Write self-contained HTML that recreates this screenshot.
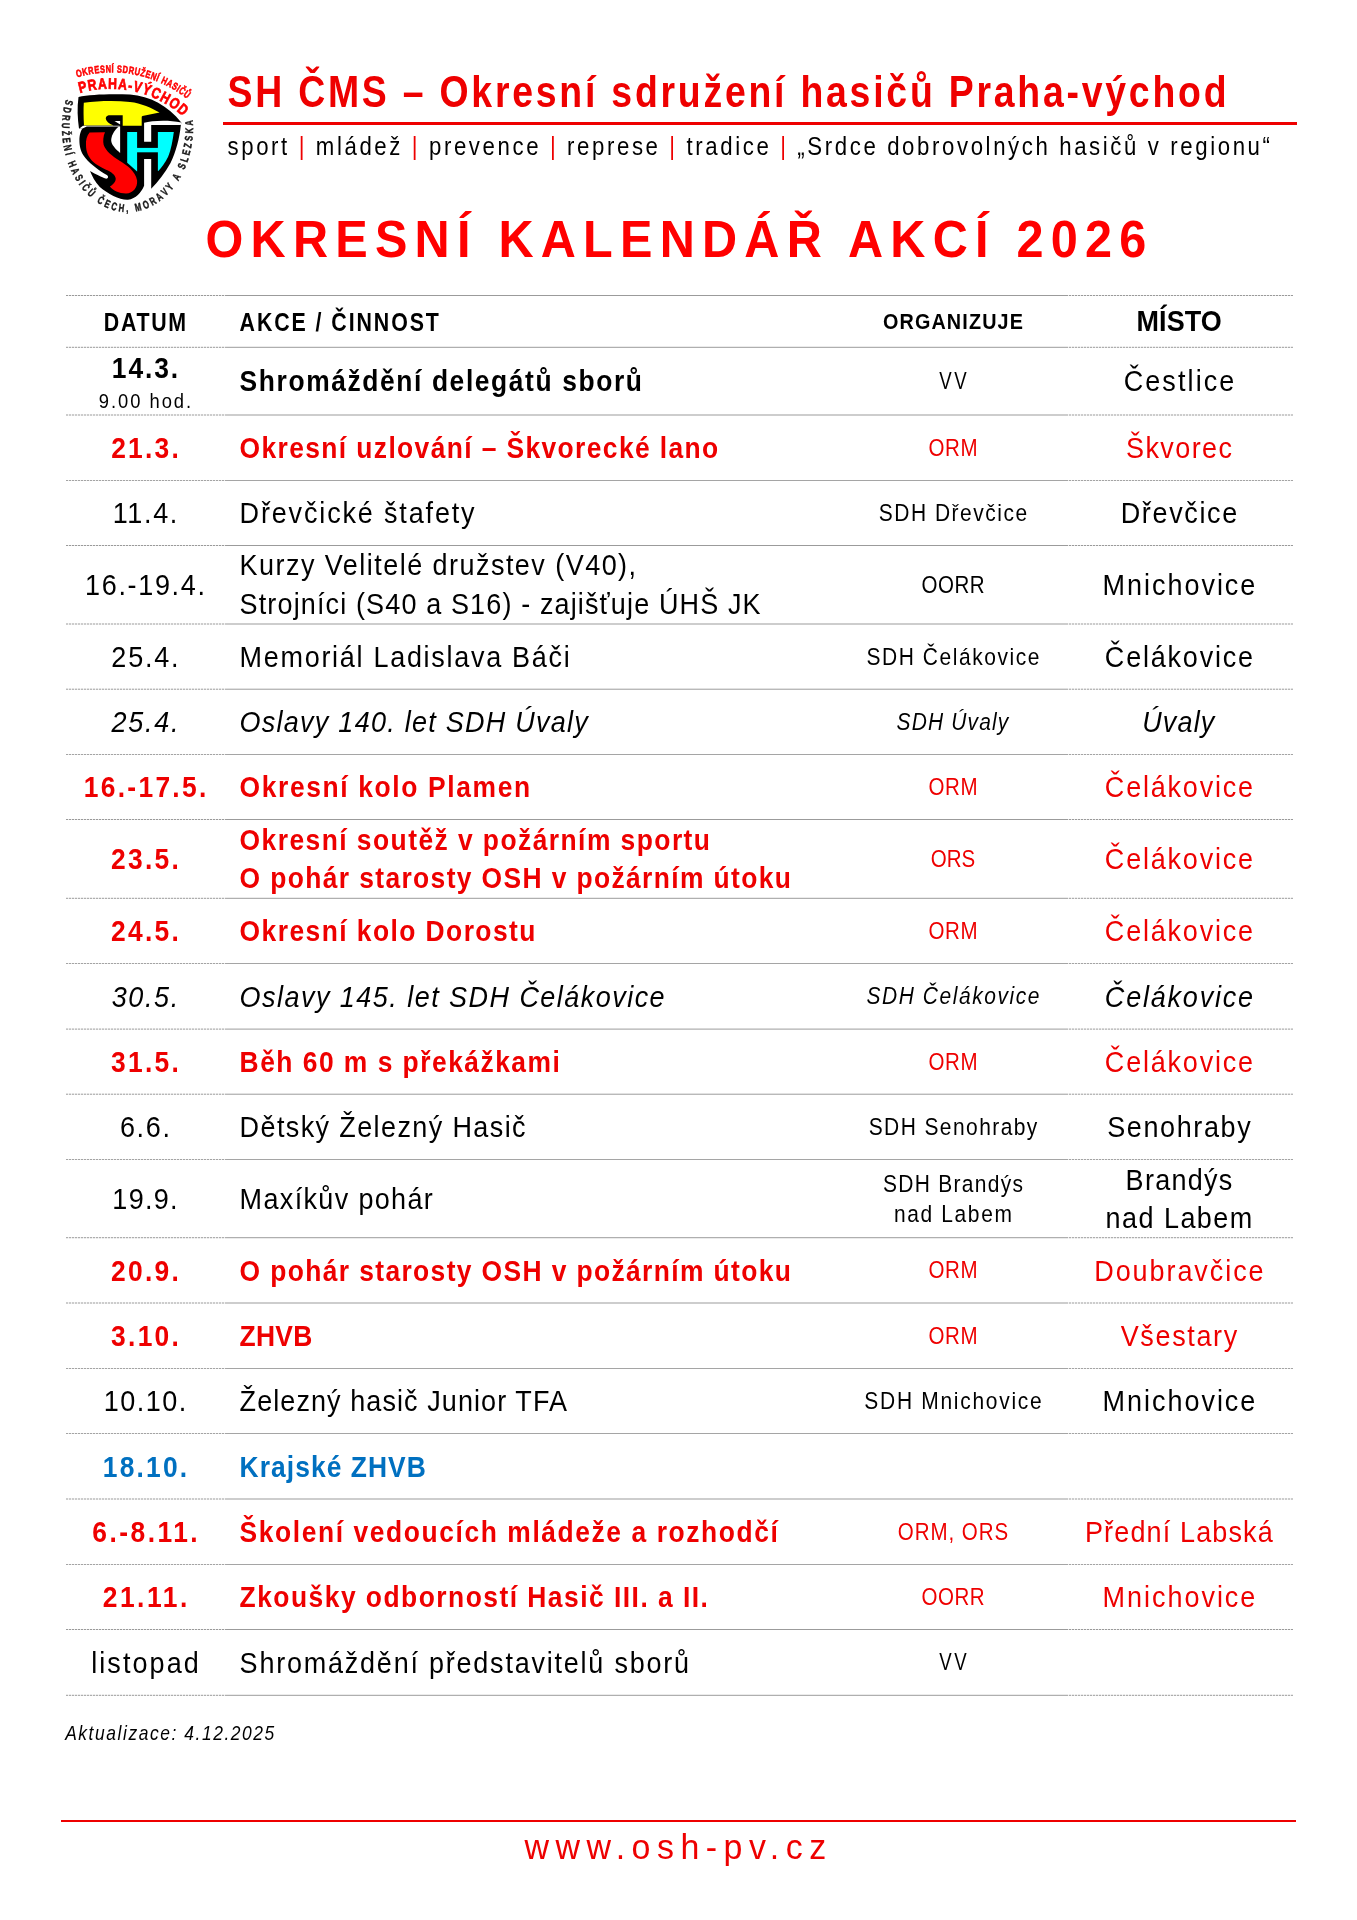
<!DOCTYPE html>
<html><head><meta charset="utf-8"><title>Okresní kalendář akcí 2026</title>
<style>
html,body{margin:0;padding:0;background:#fff;}
body{width:1357px;height:1920px;position:relative;overflow:hidden;font-family:"Liberation Sans",sans-serif;}
.rs{position:absolute;height:1px;background:#9b9b9b;}
.rl{position:absolute;height:1px;background:repeating-linear-gradient(90deg,#9a9a9a 0 2px,#e8e8e8 2px 3px);}
.redl{position:absolute;background:#ee0000;}
svg.txt{position:absolute;left:0;top:0;will-change:transform;}
svg.txt text{font-family:"Liberation Sans",sans-serif;}
</style></head><body>
<div class="rl" style="top:295px;left:66px;width:159px;opacity:1.00"></div>
<div class="rs" style="top:295px;left:225px;width:841px;opacity:1.00"></div>
<div class="rl" style="top:295px;left:1066px;width:227px;opacity:1.00"></div>
<div class="rl" style="top:346px;left:66px;width:159px;opacity:0.20"></div>
<div class="rs" style="top:346px;left:225px;width:841px;opacity:0.20"></div>
<div class="rl" style="top:346px;left:1066px;width:227px;opacity:0.20"></div>
<div class="rl" style="top:347px;left:66px;width:159px;opacity:0.80"></div>
<div class="rs" style="top:347px;left:225px;width:841px;opacity:0.80"></div>
<div class="rl" style="top:347px;left:1066px;width:227px;opacity:0.80"></div>
<div class="rl" style="top:414px;left:66px;width:159px;opacity:0.50"></div>
<div class="rs" style="top:414px;left:225px;width:841px;opacity:0.50"></div>
<div class="rl" style="top:414px;left:1066px;width:227px;opacity:0.50"></div>
<div class="rl" style="top:415px;left:66px;width:159px;opacity:0.50"></div>
<div class="rs" style="top:415px;left:225px;width:841px;opacity:0.50"></div>
<div class="rl" style="top:415px;left:1066px;width:227px;opacity:0.50"></div>
<div class="rl" style="top:480px;left:66px;width:159px;opacity:0.90"></div>
<div class="rs" style="top:480px;left:225px;width:841px;opacity:0.90"></div>
<div class="rl" style="top:480px;left:1066px;width:227px;opacity:0.90"></div>
<div class="rl" style="top:545px;left:66px;width:159px;opacity:1.00"></div>
<div class="rs" style="top:545px;left:225px;width:841px;opacity:1.00"></div>
<div class="rl" style="top:545px;left:1066px;width:227px;opacity:1.00"></div>
<div class="rl" style="top:623px;left:66px;width:159px;opacity:0.50"></div>
<div class="rs" style="top:623px;left:225px;width:841px;opacity:0.50"></div>
<div class="rl" style="top:623px;left:1066px;width:227px;opacity:0.50"></div>
<div class="rl" style="top:624px;left:66px;width:159px;opacity:0.50"></div>
<div class="rs" style="top:624px;left:225px;width:841px;opacity:0.50"></div>
<div class="rl" style="top:624px;left:1066px;width:227px;opacity:0.50"></div>
<div class="rl" style="top:688px;left:66px;width:159px;opacity:0.30"></div>
<div class="rs" style="top:688px;left:225px;width:841px;opacity:0.30"></div>
<div class="rl" style="top:688px;left:1066px;width:227px;opacity:0.30"></div>
<div class="rl" style="top:689px;left:66px;width:159px;opacity:0.70"></div>
<div class="rs" style="top:689px;left:225px;width:841px;opacity:0.70"></div>
<div class="rl" style="top:689px;left:1066px;width:227px;opacity:0.70"></div>
<div class="rl" style="top:754px;left:66px;width:159px;opacity:0.90"></div>
<div class="rs" style="top:754px;left:225px;width:841px;opacity:0.90"></div>
<div class="rl" style="top:754px;left:1066px;width:227px;opacity:0.90"></div>
<div class="rl" style="top:819px;left:66px;width:159px;opacity:1.00"></div>
<div class="rs" style="top:819px;left:225px;width:841px;opacity:1.00"></div>
<div class="rl" style="top:819px;left:1066px;width:227px;opacity:1.00"></div>
<div class="rl" style="top:897px;left:66px;width:159px;opacity:0.20"></div>
<div class="rs" style="top:897px;left:225px;width:841px;opacity:0.20"></div>
<div class="rl" style="top:897px;left:1066px;width:227px;opacity:0.20"></div>
<div class="rl" style="top:898px;left:66px;width:159px;opacity:0.80"></div>
<div class="rs" style="top:898px;left:225px;width:841px;opacity:0.80"></div>
<div class="rl" style="top:898px;left:1066px;width:227px;opacity:0.80"></div>
<div class="rl" style="top:963px;left:66px;width:159px;opacity:0.90"></div>
<div class="rs" style="top:963px;left:225px;width:841px;opacity:0.90"></div>
<div class="rl" style="top:963px;left:1066px;width:227px;opacity:0.90"></div>
<div class="rl" style="top:1028px;left:66px;width:159px;opacity:0.40"></div>
<div class="rs" style="top:1028px;left:225px;width:841px;opacity:0.40"></div>
<div class="rl" style="top:1028px;left:1066px;width:227px;opacity:0.40"></div>
<div class="rl" style="top:1029px;left:66px;width:159px;opacity:0.60"></div>
<div class="rs" style="top:1029px;left:225px;width:841px;opacity:0.60"></div>
<div class="rl" style="top:1029px;left:1066px;width:227px;opacity:0.60"></div>
<div class="rl" style="top:1093px;left:66px;width:159px;opacity:0.30"></div>
<div class="rs" style="top:1093px;left:225px;width:841px;opacity:0.30"></div>
<div class="rl" style="top:1093px;left:1066px;width:227px;opacity:0.30"></div>
<div class="rl" style="top:1094px;left:66px;width:159px;opacity:0.70"></div>
<div class="rs" style="top:1094px;left:225px;width:841px;opacity:0.70"></div>
<div class="rl" style="top:1094px;left:1066px;width:227px;opacity:0.70"></div>
<div class="rl" style="top:1159px;left:66px;width:159px;opacity:0.90"></div>
<div class="rs" style="top:1159px;left:225px;width:841px;opacity:0.90"></div>
<div class="rl" style="top:1159px;left:1066px;width:227px;opacity:0.90"></div>
<div class="rl" style="top:1237px;left:66px;width:159px;opacity:0.80"></div>
<div class="rs" style="top:1237px;left:225px;width:841px;opacity:0.80"></div>
<div class="rl" style="top:1237px;left:1066px;width:227px;opacity:0.80"></div>
<div class="rl" style="top:1238px;left:66px;width:159px;opacity:0.20"></div>
<div class="rs" style="top:1238px;left:225px;width:841px;opacity:0.20"></div>
<div class="rl" style="top:1238px;left:1066px;width:227px;opacity:0.20"></div>
<div class="rl" style="top:1302px;left:66px;width:159px;opacity:0.50"></div>
<div class="rs" style="top:1302px;left:225px;width:841px;opacity:0.50"></div>
<div class="rl" style="top:1302px;left:1066px;width:227px;opacity:0.50"></div>
<div class="rl" style="top:1303px;left:66px;width:159px;opacity:0.50"></div>
<div class="rs" style="top:1303px;left:225px;width:841px;opacity:0.50"></div>
<div class="rl" style="top:1303px;left:1066px;width:227px;opacity:0.50"></div>
<div class="rl" style="top:1368px;left:66px;width:159px;opacity:0.90"></div>
<div class="rs" style="top:1368px;left:225px;width:841px;opacity:0.90"></div>
<div class="rl" style="top:1368px;left:1066px;width:227px;opacity:0.90"></div>
<div class="rl" style="top:1433px;left:66px;width:159px;opacity:0.90"></div>
<div class="rs" style="top:1433px;left:225px;width:841px;opacity:0.90"></div>
<div class="rl" style="top:1433px;left:1066px;width:227px;opacity:0.90"></div>
<div class="rl" style="top:1498px;left:66px;width:159px;opacity:0.50"></div>
<div class="rs" style="top:1498px;left:225px;width:841px;opacity:0.50"></div>
<div class="rl" style="top:1498px;left:1066px;width:227px;opacity:0.50"></div>
<div class="rl" style="top:1499px;left:66px;width:159px;opacity:0.50"></div>
<div class="rs" style="top:1499px;left:225px;width:841px;opacity:0.50"></div>
<div class="rl" style="top:1499px;left:1066px;width:227px;opacity:0.50"></div>
<div class="rl" style="top:1564px;left:66px;width:159px;opacity:0.90"></div>
<div class="rs" style="top:1564px;left:225px;width:841px;opacity:0.90"></div>
<div class="rl" style="top:1564px;left:1066px;width:227px;opacity:0.90"></div>
<div class="rl" style="top:1629px;left:66px;width:159px;opacity:1.00"></div>
<div class="rs" style="top:1629px;left:225px;width:841px;opacity:1.00"></div>
<div class="rl" style="top:1629px;left:1066px;width:227px;opacity:1.00"></div>
<div class="rl" style="top:1694px;left:66px;width:159px;opacity:0.20"></div>
<div class="rs" style="top:1694px;left:225px;width:841px;opacity:0.20"></div>
<div class="rl" style="top:1694px;left:1066px;width:227px;opacity:0.20"></div>
<div class="rl" style="top:1695px;left:66px;width:159px;opacity:0.80"></div>
<div class="rs" style="top:1695px;left:225px;width:841px;opacity:0.80"></div>
<div class="rl" style="top:1695px;left:1066px;width:227px;opacity:0.80"></div>
<div class="redl" style="left:223px;top:122px;width:1074px;height:3px"></div>
<div class="redl" style="left:61px;top:1820px;width:1235px;height:2px"></div>
<svg style="position:absolute;left:40px;top:50px;will-change:transform" width="170" height="170" viewBox="40 50 170 170">

<!-- black silhouette -->
<path fill="#000" d="M78.5,97 C90,94.5 110,93.8 130,94.6 C150,96 168,106 181.3,122.5 L180.8,125.5 C179.5,138 176,152 170.5,163 C165,173 158,182 151.2,188.8 L151.2,159.1 L144.1,159.1 L144.1,185.7 C141,193 136,198.5 128,199.8 C120,200.3 108,194 99.8,187 C95,182 92,176 90,171.1 C96,174.5 102,177.5 105.5,178.6 C108.5,179 108.8,176.5 106.8,175.1 C100,171 91,165 85.2,157.8 C80.5,152 79.4,146 79.4,140 C79.4,135 81,130 82.5,128.5 L79,128.8 C77.5,118 77,108 78.5,97 Z"/>
<!-- yellow band -->
<path fill="#ffff00" d="M83.8,102.8 C98,100.8 115,100.4 130,101.9 C141,103 152,108 159.6,112.5 L142.4,116.1 L141.7,116.8 L141.7,125.8 L122.7,125.8 L122.7,115.2 L108.6,115.2 C106,115.6 105.4,118 106,119.5 C107,122.5 111,124.5 113.5,125.4 L84,125.4 C83.5,117 83.4,109 83.8,102.8 Z"/>
<!-- white gaps -->
<path fill="#fff" d="M79,128.8 L83,125.8 L119.5,125.8 L119.5,126.6 L86.8,126.6 L82.5,128.5 Z"/>
<path fill="#fff" d="M114.5,121 L120.1,121 L120.1,124.6 Z"/>
<path fill="#fff" d="M144.1,122.7 C152,120.6 168,119.5 181.3,122.5 L180.8,125.1 L151.2,125.1 L151.2,141.7 L144.1,141.7 Z"/>
<!-- white counter inside S -->
<path fill="#fff" d="M118.8,126.4 L120.1,126.4 L120.1,153 C116,149.5 111.4,145 111.2,140.8 C111,136 114,130.5 118.8,126.4 Z"/>
<!-- red S -->
<path fill="#ff0000" d="M89.6,132.4 L105,132.2 C103.2,136 102.8,141.5 103.7,145 C105.5,150.5 112,156 119.2,160.5 C126.5,165 135.5,171 137.1,180.4 C137.6,187.5 133.5,192.8 126,193.6 C119,193.6 113,190.5 109.9,186.6 C113.5,184.5 115.9,181.5 115.7,178.6 C115.4,175 111.5,172 106,169.8 C100.5,166.8 96,164.5 93.6,162.2 C88.5,157.5 86,152 86,145 C85.6,140 87,135.5 89.6,132.4 Z"/>
<!-- cyan H -->
<path fill="#00ffff" d="M127.2,132 L137.1,132 L137.1,171.5 L127.2,162.7 Z"/>
<path fill="#00ffff" d="M157.9,132 L173.8,132 C172.8,140 171,150 168,157 C165,163 161.5,167.5 158.3,171.1 L157.9,171.1 Z"/>
<rect fill="#00ffff" x="137" y="147.9" width="21" height="4.4"/>
<text transform="translate(79.68 76.65) rotate(-15.23) scale(0.720 1)" text-anchor="middle" fill="#ff0000" stroke="#ff0000" stroke-width="0.55" style="font-family:'Liberation Sans',sans-serif;font-weight:bold;font-size:10.40px">O</text>
<text transform="translate(85.64 75.19) rotate(-12.33) scale(0.720 1)" text-anchor="middle" fill="#ff0000" stroke="#ff0000" stroke-width="0.55" style="font-family:'Liberation Sans',sans-serif;font-weight:bold;font-size:10.40px">K</text>
<text transform="translate(91.46 74.07) rotate(-9.51) scale(0.720 1)" text-anchor="middle" fill="#ff0000" stroke="#ff0000" stroke-width="0.55" style="font-family:'Liberation Sans',sans-serif;font-weight:bold;font-size:10.40px">R</text>
<text transform="translate(97.13 73.26) rotate(-6.81) scale(0.720 1)" text-anchor="middle" fill="#ff0000" stroke="#ff0000" stroke-width="0.55" style="font-family:'Liberation Sans',sans-serif;font-weight:bold;font-size:10.40px">E</text>
<text transform="translate(102.62 72.73) rotate(-4.20) scale(0.720 1)" text-anchor="middle" fill="#ff0000" stroke="#ff0000" stroke-width="0.55" style="font-family:'Liberation Sans',sans-serif;font-weight:bold;font-size:10.40px">S</text>
<text transform="translate(108.33 72.44) rotate(-1.49) scale(0.720 1)" text-anchor="middle" fill="#ff0000" stroke="#ff0000" stroke-width="0.55" style="font-family:'Liberation Sans',sans-serif;font-weight:bold;font-size:10.40px">N</text>
<text transform="translate(112.60 72.41) rotate(0.52) scale(0.720 1)" text-anchor="middle" fill="#ff0000" stroke="#ff0000" stroke-width="0.55" style="font-family:'Liberation Sans',sans-serif;font-weight:bold;font-size:10.40px">Í</text>
<text transform="translate(119.26 72.65) rotate(3.67) scale(0.720 1)" text-anchor="middle" fill="#ff0000" stroke="#ff0000" stroke-width="0.55" style="font-family:'Liberation Sans',sans-serif;font-weight:bold;font-size:10.40px">S</text>
<text transform="translate(124.96 73.15) rotate(6.38) scale(0.720 1)" text-anchor="middle" fill="#ff0000" stroke="#ff0000" stroke-width="0.55" style="font-family:'Liberation Sans',sans-serif;font-weight:bold;font-size:10.40px">D</text>
<text transform="translate(130.84 73.95) rotate(9.18) scale(0.720 1)" text-anchor="middle" fill="#ff0000" stroke="#ff0000" stroke-width="0.55" style="font-family:'Liberation Sans',sans-serif;font-weight:bold;font-size:10.40px">R</text>
<text transform="translate(136.67 75.04) rotate(11.98) scale(0.720 1)" text-anchor="middle" fill="#ff0000" stroke="#ff0000" stroke-width="0.55" style="font-family:'Liberation Sans',sans-serif;font-weight:bold;font-size:10.40px">U</text>
<text transform="translate(142.03 76.31) rotate(14.59) scale(0.720 1)" text-anchor="middle" fill="#ff0000" stroke="#ff0000" stroke-width="0.55" style="font-family:'Liberation Sans',sans-serif;font-weight:bold;font-size:10.40px">Ž</text>
<text transform="translate(147.14 77.76) rotate(17.10) scale(0.720 1)" text-anchor="middle" fill="#ff0000" stroke="#ff0000" stroke-width="0.55" style="font-family:'Liberation Sans',sans-serif;font-weight:bold;font-size:10.40px">E</text>
<text transform="translate(152.57 79.57) rotate(19.81) scale(0.720 1)" text-anchor="middle" fill="#ff0000" stroke="#ff0000" stroke-width="0.55" style="font-family:'Liberation Sans',sans-serif;font-weight:bold;font-size:10.40px">N</text>
<text transform="translate(156.56 81.09) rotate(21.82) scale(0.720 1)" text-anchor="middle" fill="#ff0000" stroke="#ff0000" stroke-width="0.55" style="font-family:'Liberation Sans',sans-serif;font-weight:bold;font-size:10.40px">Í</text>
<text transform="translate(162.86 83.82) rotate(25.07) scale(0.720 1)" text-anchor="middle" fill="#ff0000" stroke="#ff0000" stroke-width="0.55" style="font-family:'Liberation Sans',sans-serif;font-weight:bold;font-size:10.40px">H</text>
<text transform="translate(168.17 86.46) rotate(27.88) scale(0.720 1)" text-anchor="middle" fill="#ff0000" stroke="#ff0000" stroke-width="0.55" style="font-family:'Liberation Sans',sans-serif;font-weight:bold;font-size:10.40px">A</text>
<text transform="translate(173.16 89.26) rotate(30.59) scale(0.720 1)" text-anchor="middle" fill="#ff0000" stroke="#ff0000" stroke-width="0.55" style="font-family:'Liberation Sans',sans-serif;font-weight:bold;font-size:10.40px">S</text>
<text transform="translate(176.62 91.38) rotate(32.51) scale(0.720 1)" text-anchor="middle" fill="#ff0000" stroke="#ff0000" stroke-width="0.55" style="font-family:'Liberation Sans',sans-serif;font-weight:bold;font-size:10.40px">I</text>
<text transform="translate(180.18 93.74) rotate(34.52) scale(0.720 1)" text-anchor="middle" fill="#ff0000" stroke="#ff0000" stroke-width="0.55" style="font-family:'Liberation Sans',sans-serif;font-weight:bold;font-size:10.40px">Č</text>
<text transform="translate(184.98 97.22) rotate(37.32) scale(0.720 1)" text-anchor="middle" fill="#ff0000" stroke="#ff0000" stroke-width="0.55" style="font-family:'Liberation Sans',sans-serif;font-weight:bold;font-size:10.40px">Ů</text>
<text transform="translate(83.65 91.99) rotate(-13.79) scale(0.800 1)" text-anchor="middle" fill="#ff0000" stroke="#ff0000" stroke-width="0.70" style="font-family:'Liberation Sans',sans-serif;font-weight:bold;font-size:15.30px">P</text>
<text transform="translate(92.93 90.13) rotate(-8.89) scale(0.800 1)" text-anchor="middle" fill="#ff0000" stroke="#ff0000" stroke-width="0.70" style="font-family:'Liberation Sans',sans-serif;font-weight:bold;font-size:15.30px">R</text>
<text transform="translate(102.67 89.04) rotate(-3.80) scale(0.800 1)" text-anchor="middle" fill="#ff0000" stroke="#ff0000" stroke-width="0.70" style="font-family:'Liberation Sans',sans-serif;font-weight:bold;font-size:15.30px">A</text>
<text transform="translate(112.47 88.83) rotate(1.29) scale(0.800 1)" text-anchor="middle" fill="#ff0000" stroke="#ff0000" stroke-width="0.70" style="font-family:'Liberation Sans',sans-serif;font-weight:bold;font-size:15.30px">H</text>
<text transform="translate(122.25 89.48) rotate(6.36) scale(0.800 1)" text-anchor="middle" fill="#ff0000" stroke="#ff0000" stroke-width="0.70" style="font-family:'Liberation Sans',sans-serif;font-weight:bold;font-size:15.30px">A</text>
<text transform="translate(129.60 90.55) rotate(10.21) scale(0.800 1)" text-anchor="middle" fill="#ff0000" stroke="#ff0000" stroke-width="0.70" style="font-family:'Liberation Sans',sans-serif;font-weight:bold;font-size:15.30px">-</text>
<text transform="translate(136.53 92.03) rotate(13.88) scale(0.800 1)" text-anchor="middle" fill="#ff0000" stroke="#ff0000" stroke-width="0.70" style="font-family:'Liberation Sans',sans-serif;font-weight:bold;font-size:15.30px">V</text>
<text transform="translate(145.30 94.58) rotate(18.61) scale(0.800 1)" text-anchor="middle" fill="#ff0000" stroke="#ff0000" stroke-width="0.70" style="font-family:'Liberation Sans',sans-serif;font-weight:bold;font-size:15.30px">Ý</text>
<text transform="translate(154.13 97.99) rotate(23.51) scale(0.800 1)" text-anchor="middle" fill="#ff0000" stroke="#ff0000" stroke-width="0.70" style="font-family:'Liberation Sans',sans-serif;font-weight:bold;font-size:15.30px">C</text>
<text transform="translate(162.94 102.29) rotate(28.60) scale(0.800 1)" text-anchor="middle" fill="#ff0000" stroke="#ff0000" stroke-width="0.70" style="font-family:'Liberation Sans',sans-serif;font-weight:bold;font-size:15.30px">H</text>
<text transform="translate(171.61 107.55) rotate(33.86) scale(0.800 1)" text-anchor="middle" fill="#ff0000" stroke="#ff0000" stroke-width="0.70" style="font-family:'Liberation Sans',sans-serif;font-weight:bold;font-size:15.30px">O</text>
<text transform="translate(179.77 113.58) rotate(39.11) scale(0.800 1)" text-anchor="middle" fill="#ff0000" stroke="#ff0000" stroke-width="0.70" style="font-family:'Liberation Sans',sans-serif;font-weight:bold;font-size:15.30px">D</text>
<text transform="translate(65.28 101.75) rotate(104.40) scale(0.700 1)" text-anchor="middle" fill="#1a1a1a" stroke="#1a1a1a" stroke-width="0.45" style="font-family:'Liberation Sans',sans-serif;font-weight:bold;font-size:11.00px">S</text>
<text transform="translate(63.62 109.46) rotate(99.99) scale(0.700 1)" text-anchor="middle" fill="#1a1a1a" stroke="#1a1a1a" stroke-width="0.45" style="font-family:'Liberation Sans',sans-serif;font-weight:bold;font-size:11.00px">D</text>
<text transform="translate(62.52 117.49) rotate(95.61) scale(0.700 1)" text-anchor="middle" fill="#1a1a1a" stroke="#1a1a1a" stroke-width="0.45" style="font-family:'Liberation Sans',sans-serif;font-weight:bold;font-size:11.00px">R</text>
<text transform="translate(62.03 125.57) rotate(91.31) scale(0.700 1)" text-anchor="middle" fill="#1a1a1a" stroke="#1a1a1a" stroke-width="0.45" style="font-family:'Liberation Sans',sans-serif;font-weight:bold;font-size:11.00px">U</text>
<text transform="translate(62.13 133.24) rotate(87.22) scale(0.700 1)" text-anchor="middle" fill="#1a1a1a" stroke="#1a1a1a" stroke-width="0.45" style="font-family:'Liberation Sans',sans-serif;font-weight:bold;font-size:11.00px">Ž</text>
<text transform="translate(62.75 140.68) rotate(83.20) scale(0.700 1)" text-anchor="middle" fill="#1a1a1a" stroke="#1a1a1a" stroke-width="0.45" style="font-family:'Liberation Sans',sans-serif;font-weight:bold;font-size:11.00px">E</text>
<text transform="translate(63.98 148.47) rotate(78.92) scale(0.700 1)" text-anchor="middle" fill="#1a1a1a" stroke="#1a1a1a" stroke-width="0.45" style="font-family:'Liberation Sans',sans-serif;font-weight:bold;font-size:11.00px">N</text>
<text transform="translate(65.40 154.70) rotate(75.36) scale(0.700 1)" text-anchor="middle" fill="#1a1a1a" stroke="#1a1a1a" stroke-width="0.45" style="font-family:'Liberation Sans',sans-serif;font-weight:bold;font-size:11.00px">Í</text>
<text transform="translate(68.79 165.24) rotate(68.90) scale(0.700 1)" text-anchor="middle" fill="#1a1a1a" stroke="#1a1a1a" stroke-width="0.45" style="font-family:'Liberation Sans',sans-serif;font-weight:bold;font-size:11.00px">H</text>
<text transform="translate(72.03 172.66) rotate(63.91) scale(0.700 1)" text-anchor="middle" fill="#1a1a1a" stroke="#1a1a1a" stroke-width="0.45" style="font-family:'Liberation Sans',sans-serif;font-weight:bold;font-size:11.00px">A</text>
<text transform="translate(75.81 179.59) rotate(58.75) scale(0.700 1)" text-anchor="middle" fill="#1a1a1a" stroke="#1a1a1a" stroke-width="0.45" style="font-family:'Liberation Sans',sans-serif;font-weight:bold;font-size:11.00px">S</text>
<text transform="translate(79.21 184.75) rotate(54.44) scale(0.700 1)" text-anchor="middle" fill="#1a1a1a" stroke="#1a1a1a" stroke-width="0.45" style="font-family:'Liberation Sans',sans-serif;font-weight:bold;font-size:11.00px">I</text>
<text transform="translate(83.13 189.79) rotate(49.76) scale(0.700 1)" text-anchor="middle" fill="#1a1a1a" stroke="#1a1a1a" stroke-width="0.45" style="font-family:'Liberation Sans',sans-serif;font-weight:bold;font-size:11.00px">Č</text>
<text transform="translate(88.70 195.67) rotate(43.33) scale(0.700 1)" text-anchor="middle" fill="#1a1a1a" stroke="#1a1a1a" stroke-width="0.45" style="font-family:'Liberation Sans',sans-serif;font-weight:bold;font-size:11.00px">Ů</text>
<text transform="translate(98.78 203.50) rotate(32.03) scale(0.700 1)" text-anchor="middle" fill="#1a1a1a" stroke="#1a1a1a" stroke-width="0.45" style="font-family:'Liberation Sans',sans-serif;font-weight:bold;font-size:11.00px">Č</text>
<text transform="translate(105.73 207.22) rotate(24.34) scale(0.700 1)" text-anchor="middle" fill="#1a1a1a" stroke="#1a1a1a" stroke-width="0.45" style="font-family:'Liberation Sans',sans-serif;font-weight:bold;font-size:11.00px">E</text>
<text transform="translate(113.12 209.95) rotate(16.12) scale(0.700 1)" text-anchor="middle" fill="#1a1a1a" stroke="#1a1a1a" stroke-width="0.45" style="font-family:'Liberation Sans',sans-serif;font-weight:bold;font-size:11.00px">C</text>
<text transform="translate(121.05 211.59) rotate(7.24) scale(0.700 1)" text-anchor="middle" fill="#1a1a1a" stroke="#1a1a1a" stroke-width="0.45" style="font-family:'Liberation Sans',sans-serif;font-weight:bold;font-size:11.00px">H</text>
<text transform="translate(127.43 212.00) rotate(0.07) scale(0.700 1)" text-anchor="middle" fill="#1a1a1a" stroke="#1a1a1a" stroke-width="0.45" style="font-family:'Liberation Sans',sans-serif;font-weight:bold;font-size:11.00px">,</text>
<text transform="translate(138.83 210.73) rotate(-12.70) scale(0.700 1)" text-anchor="middle" fill="#1a1a1a" stroke="#1a1a1a" stroke-width="0.45" style="font-family:'Liberation Sans',sans-serif;font-weight:bold;font-size:11.00px">M</text>
<text transform="translate(147.17 208.12) rotate(-21.98) scale(0.700 1)" text-anchor="middle" fill="#1a1a1a" stroke="#1a1a1a" stroke-width="0.45" style="font-family:'Liberation Sans',sans-serif;font-weight:bold;font-size:11.00px">O</text>
<text transform="translate(154.63 204.46) rotate(-30.25) scale(0.700 1)" text-anchor="middle" fill="#1a1a1a" stroke="#1a1a1a" stroke-width="0.45" style="font-family:'Liberation Sans',sans-serif;font-weight:bold;font-size:11.00px">R</text>
<text transform="translate(161.34 199.92) rotate(-37.71) scale(0.700 1)" text-anchor="middle" fill="#1a1a1a" stroke="#1a1a1a" stroke-width="0.45" style="font-family:'Liberation Sans',sans-serif;font-weight:bold;font-size:11.00px">A</text>
<text transform="translate(167.28 194.74) rotate(-44.44) scale(0.700 1)" text-anchor="middle" fill="#1a1a1a" stroke="#1a1a1a" stroke-width="0.45" style="font-family:'Liberation Sans',sans-serif;font-weight:bold;font-size:11.00px">V</text>
<text transform="translate(172.46 189.08) rotate(-50.46) scale(0.700 1)" text-anchor="middle" fill="#1a1a1a" stroke="#1a1a1a" stroke-width="0.45" style="font-family:'Liberation Sans',sans-serif;font-weight:bold;font-size:11.00px">Y</text>
<text transform="translate(179.67 178.79) rotate(-59.35) scale(0.700 1)" text-anchor="middle" fill="#1a1a1a" stroke="#1a1a1a" stroke-width="0.45" style="font-family:'Liberation Sans',sans-serif;font-weight:bold;font-size:11.00px">A</text>
<text transform="translate(185.28 167.56) rotate(-67.41) scale(0.700 1)" text-anchor="middle" fill="#1a1a1a" stroke="#1a1a1a" stroke-width="0.45" style="font-family:'Liberation Sans',sans-serif;font-weight:bold;font-size:11.00px">S</text>
<text transform="translate(187.88 160.56) rotate(-71.86) scale(0.700 1)" text-anchor="middle" fill="#1a1a1a" stroke="#1a1a1a" stroke-width="0.45" style="font-family:'Liberation Sans',sans-serif;font-weight:bold;font-size:11.00px">L</text>
<text transform="translate(189.94 153.39) rotate(-76.11) scale(0.700 1)" text-anchor="middle" fill="#1a1a1a" stroke="#1a1a1a" stroke-width="0.45" style="font-family:'Liberation Sans',sans-serif;font-weight:bold;font-size:11.00px">E</text>
<text transform="translate(191.46 146.09) rotate(-80.22) scale(0.700 1)" text-anchor="middle" fill="#1a1a1a" stroke="#1a1a1a" stroke-width="0.45" style="font-family:'Liberation Sans',sans-serif;font-weight:bold;font-size:11.00px">Z</text>
<text transform="translate(192.47 138.70) rotate(-84.28) scale(0.700 1)" text-anchor="middle" fill="#1a1a1a" stroke="#1a1a1a" stroke-width="0.45" style="font-family:'Liberation Sans',sans-serif;font-weight:bold;font-size:11.00px">S</text>
<text transform="translate(192.96 130.82) rotate(-88.50) scale(0.700 1)" text-anchor="middle" fill="#1a1a1a" stroke="#1a1a1a" stroke-width="0.45" style="font-family:'Liberation Sans',sans-serif;font-weight:bold;font-size:11.00px">K</text>
<text transform="translate(192.87 122.72) rotate(-92.83) scale(0.700 1)" text-anchor="middle" fill="#1a1a1a" stroke="#1a1a1a" stroke-width="0.45" style="font-family:'Liberation Sans',sans-serif;font-weight:bold;font-size:11.00px">A</text>
</svg>

<svg class="txt" width="1357" height="1920" viewBox="0 0 1357 1920">
<text transform="translate(227.50 107.30) scale(0.8600 1)" style="font-size:43.50px;font-weight:bold;letter-spacing:3.228px;" fill="#ee0000">SH ČMS – Okresní sdružení hasičů Praha-východ</text>
<text transform="translate(227.50 155.20) scale(0.8700 1)" style="font-size:25.50px;letter-spacing:3.007px;" fill="#000">sport <tspan fill="#ee0000">|</tspan> mládež <tspan fill="#ee0000">|</tspan> prevence <tspan fill="#ee0000">|</tspan> represe <tspan fill="#ee0000">|</tspan> tradice <tspan fill="#ee0000">|</tspan> „Srdce dobrovolných hasičů v regionu“</text>
<text transform="translate(205.50 257.00) scale(0.9300 1)" style="font-size:52.30px;font-weight:bold;letter-spacing:7.765px;" fill="#ff0000">OKRESNÍ KALENDÁŘ AKCÍ 2026</text>
<text transform="translate(103.85 330.60) scale(0.8000 1)" style="font-size:26.70px;font-weight:bold;letter-spacing:2.123px;" fill="#000">DATUM</text>
<text transform="translate(239.60 330.60) scale(0.8000 1)" style="font-size:26.70px;font-weight:bold;letter-spacing:2.403px;" fill="#000">AKCE / ČINNOST</text>
<text transform="translate(882.95 329.40) scale(0.9000 1)" style="font-size:22.00px;font-weight:bold;letter-spacing:1.273px;" fill="#000">ORGANIZUJE</text>
<text transform="translate(1136.60 331.40) scale(0.9300 1)" style="font-size:29.00px;font-weight:bold;letter-spacing:0.039px;" fill="#000">MÍSTO</text>
<text transform="translate(111.80 378.30) scale(0.8800 1)" style="font-size:30.00px;font-weight:bold;letter-spacing:2.176px;" fill="#000">14.3.</text>
<text transform="translate(98.85 408.30) scale(0.9200 1)" style="font-size:20.00px;letter-spacing:2.116px;" fill="#000">9.00 hod.</text>
<text transform="translate(239.60 391.45) scale(0.8800 1)" style="font-size:30.00px;font-weight:bold;letter-spacing:1.821px;" fill="#000">Shromáždění delegátů sborů</text>
<text transform="translate(939.35 389.15) scale(0.8000 1)" style="font-size:23.30px;letter-spacing:3.019px;" fill="#000">VV</text>
<text transform="translate(1123.65 391.45) scale(0.9000 1)" style="font-size:30.00px;letter-spacing:2.336px;" fill="#000">Čestlice</text>
<text transform="translate(111.25 458.00) scale(0.8800 1)" style="font-size:30.00px;font-weight:bold;letter-spacing:2.489px;" fill="#ee0000">21.3.</text>
<text transform="translate(239.60 458.00) scale(0.8800 1)" style="font-size:30.00px;font-weight:bold;letter-spacing:1.574px;" fill="#ee0000">Okresní uzlování – Škvorecké lano</text>
<text transform="translate(928.40 455.70) scale(0.8800 1)" style="font-size:23.30px;letter-spacing:0.752px;" fill="#ee0000">ORM</text>
<text transform="translate(1126.00 458.00) scale(0.9000 1)" style="font-size:30.00px;letter-spacing:1.580px;" fill="#ee0000">Škvorec</text>
<text transform="translate(112.65 523.25) scale(0.9000 1)" style="font-size:30.00px;letter-spacing:1.847px;" fill="#000">11.4.</text>
<text transform="translate(239.60 523.25) scale(0.9000 1)" style="font-size:30.00px;letter-spacing:2.055px;" fill="#000">Dřevčické štafety</text>
<text transform="translate(878.80 520.95) scale(0.9000 1)" style="font-size:23.30px;letter-spacing:1.688px;" fill="#000">SDH Dřevčice</text>
<text transform="translate(1120.75 523.25) scale(0.9000 1)" style="font-size:30.00px;letter-spacing:1.821px;" fill="#000">Dřevčice</text>
<text transform="translate(85.00 595.05) scale(0.9000 1)" style="font-size:30.00px;letter-spacing:1.873px;" fill="#000">16.-19.4.</text>
<text transform="translate(239.60 575.45) scale(0.9000 1)" style="font-size:30.00px;letter-spacing:1.632px;" fill="#000">Kurzy Velitelé družstev (V40),</text>
<text transform="translate(239.60 613.85) scale(0.9000 1)" style="font-size:30.00px;letter-spacing:1.270px;" fill="#000">Strojníci (S40 a S16) - zajišťuje ÚHŠ JK</text>
<text transform="translate(921.50 592.75) scale(0.8800 1)" style="font-size:23.30px;letter-spacing:0.564px;" fill="#000">OORR</text>
<text transform="translate(1102.60 595.05) scale(0.9000 1)" style="font-size:30.00px;letter-spacing:2.198px;" fill="#000">Mnichovice</text>
<text transform="translate(111.35 666.90) scale(0.9000 1)" style="font-size:30.00px;letter-spacing:2.007px;" fill="#000">25.4.</text>
<text transform="translate(239.60 666.90) scale(0.9000 1)" style="font-size:30.00px;letter-spacing:1.905px;" fill="#000">Memoriál Ladislava Báči</text>
<text transform="translate(866.50 664.60) scale(0.9000 1)" style="font-size:23.30px;letter-spacing:1.738px;" fill="#000">SDH Čelákovice</text>
<text transform="translate(1104.85 666.90) scale(0.9000 1)" style="font-size:30.00px;letter-spacing:2.009px;" fill="#000">Čelákovice</text>
<text transform="translate(111.62 732.10) scale(0.9000 1)" style="font-size:30.00px;font-style:italic;letter-spacing:1.932px;" fill="#000">25.4.</text>
<text transform="translate(239.60 732.10) scale(0.9000 1)" style="font-size:30.00px;font-style:italic;letter-spacing:1.401px;" fill="#000">Oslavy 140. let SDH Úvaly</text>
<text transform="translate(896.50 729.80) scale(0.9000 1)" style="font-size:23.30px;font-style:italic;letter-spacing:1.292px;" fill="#000">SDH Úvaly</text>
<text transform="translate(1142.15 732.10) scale(0.9000 1)" style="font-size:30.00px;font-style:italic;letter-spacing:1.310px;" fill="#000">Úvaly</text>
<text transform="translate(83.75 797.25) scale(0.8800 1)" style="font-size:30.00px;font-weight:bold;letter-spacing:2.607px;" fill="#ee0000">16.-17.5.</text>
<text transform="translate(239.60 797.25) scale(0.8800 1)" style="font-size:30.00px;font-weight:bold;letter-spacing:1.854px;" fill="#ee0000">Okresní kolo Plamen</text>
<text transform="translate(928.40 794.95) scale(0.8800 1)" style="font-size:23.30px;letter-spacing:0.752px;" fill="#ee0000">ORM</text>
<text transform="translate(1104.85 797.25) scale(0.9000 1)" style="font-size:30.00px;letter-spacing:2.009px;" fill="#ee0000">Čelákovice</text>
<text transform="translate(111.05 869.20) scale(0.8800 1)" style="font-size:30.00px;font-weight:bold;letter-spacing:2.602px;" fill="#ee0000">23.5.</text>
<text transform="translate(239.60 849.60) scale(0.8800 1)" style="font-size:30.00px;font-weight:bold;letter-spacing:1.652px;" fill="#ee0000">Okresní soutěž v požárním sportu</text>
<text transform="translate(239.60 888.00) scale(0.8800 1)" style="font-size:30.00px;font-weight:bold;letter-spacing:1.568px;" fill="#ee0000">O pohár starosty OSH v požárním útoku</text>
<text transform="translate(930.80 866.90) scale(0.8800 1)" style="font-size:23.30px;letter-spacing:0.005px;" fill="#ee0000">ORS</text>
<text transform="translate(1104.85 869.20) scale(0.9000 1)" style="font-size:30.00px;letter-spacing:2.009px;" fill="#ee0000">Čelákovice</text>
<text transform="translate(111.05 941.15) scale(0.8800 1)" style="font-size:30.00px;font-weight:bold;letter-spacing:2.602px;" fill="#ee0000">24.5.</text>
<text transform="translate(239.60 941.15) scale(0.8800 1)" style="font-size:30.00px;font-weight:bold;letter-spacing:1.639px;" fill="#ee0000">Okresní kolo Dorostu</text>
<text transform="translate(928.40 938.85) scale(0.8800 1)" style="font-size:23.30px;letter-spacing:0.752px;" fill="#ee0000">ORM</text>
<text transform="translate(1104.85 941.15) scale(0.9000 1)" style="font-size:30.00px;letter-spacing:2.009px;" fill="#ee0000">Čelákovice</text>
<text transform="translate(111.70 1006.55) scale(0.9000 1)" style="font-size:30.00px;font-style:italic;letter-spacing:1.812px;" fill="#000">30.5.</text>
<text transform="translate(239.60 1006.55) scale(0.9000 1)" style="font-size:30.00px;font-style:italic;letter-spacing:1.635px;" fill="#000">Oslavy 145. let SDH Čelákovice</text>
<text transform="translate(866.50 1004.25) scale(0.9000 1)" style="font-size:23.30px;font-style:italic;letter-spacing:1.738px;" fill="#000">SDH Čelákovice</text>
<text transform="translate(1104.85 1006.55) scale(0.9000 1)" style="font-size:30.00px;font-style:italic;letter-spacing:2.009px;" fill="#000">Čelákovice</text>
<text transform="translate(111.05 1071.95) scale(0.8800 1)" style="font-size:30.00px;font-weight:bold;letter-spacing:2.602px;" fill="#ee0000">31.5.</text>
<text transform="translate(239.60 1071.95) scale(0.8800 1)" style="font-size:30.00px;font-weight:bold;letter-spacing:1.686px;" fill="#ee0000">Běh 60 m s překážkami</text>
<text transform="translate(928.40 1069.65) scale(0.8800 1)" style="font-size:23.30px;letter-spacing:0.752px;" fill="#ee0000">ORM</text>
<text transform="translate(1104.85 1071.95) scale(0.9000 1)" style="font-size:30.00px;letter-spacing:2.009px;" fill="#ee0000">Čelákovice</text>
<text transform="translate(119.95 1137.10) scale(0.9000 1)" style="font-size:30.00px;letter-spacing:1.856px;" fill="#000">6.6.</text>
<text transform="translate(239.60 1137.10) scale(0.9000 1)" style="font-size:30.00px;letter-spacing:1.555px;" fill="#000">Dětský Železný Hasič</text>
<text transform="translate(868.65 1134.80) scale(0.9000 1)" style="font-size:23.30px;letter-spacing:1.592px;" fill="#000">SDH Senohraby</text>
<text transform="translate(1107.25 1137.10) scale(0.9000 1)" style="font-size:30.00px;letter-spacing:1.799px;" fill="#000">Senohraby</text>
<text transform="translate(112.35 1208.85) scale(0.9000 1)" style="font-size:30.00px;letter-spacing:1.451px;" fill="#000">19.9.</text>
<text transform="translate(239.60 1208.85) scale(0.9000 1)" style="font-size:30.00px;letter-spacing:1.507px;" fill="#000">Maxíkův pohár</text>
<text transform="translate(882.95 1191.90) scale(0.9000 1)" style="font-size:23.30px;letter-spacing:1.447px;" fill="#000">SDH Brandýs</text>
<text transform="translate(894.05 1222.30) scale(0.9000 1)" style="font-size:23.30px;letter-spacing:1.798px;" fill="#000">nad Labem</text>
<text transform="translate(1125.60 1189.55) scale(0.9000 1)" style="font-size:30.00px;letter-spacing:1.428px;" fill="#000">Brandýs</text>
<text transform="translate(1105.60 1227.95) scale(0.9000 1)" style="font-size:30.00px;letter-spacing:1.620px;" fill="#000">nad Labem</text>
<text transform="translate(111.05 1280.65) scale(0.8800 1)" style="font-size:30.00px;font-weight:bold;letter-spacing:2.602px;" fill="#ee0000">20.9.</text>
<text transform="translate(239.60 1280.65) scale(0.8800 1)" style="font-size:30.00px;font-weight:bold;letter-spacing:1.568px;" fill="#ee0000">O pohár starosty OSH v požárním útoku</text>
<text transform="translate(928.40 1278.35) scale(0.8800 1)" style="font-size:23.30px;letter-spacing:0.752px;" fill="#ee0000">ORM</text>
<text transform="translate(1094.20 1280.65) scale(0.9000 1)" style="font-size:30.00px;letter-spacing:2.164px;" fill="#ee0000">Doubravčice</text>
<text transform="translate(111.05 1346.00) scale(0.8800 1)" style="font-size:30.00px;font-weight:bold;letter-spacing:2.602px;" fill="#ee0000">3.10.</text>
<text transform="translate(239.60 1346.00) scale(0.8800 1)" style="font-size:30.00px;font-weight:bold;letter-spacing:0.300px;" fill="#ee0000">ZHVB</text>
<text transform="translate(928.40 1343.70) scale(0.8800 1)" style="font-size:23.30px;letter-spacing:0.752px;" fill="#ee0000">ORM</text>
<text transform="translate(1120.65 1346.00) scale(0.9000 1)" style="font-size:30.00px;letter-spacing:1.852px;" fill="#ee0000">Všestary</text>
<text transform="translate(103.75 1411.30) scale(0.9000 1)" style="font-size:30.00px;letter-spacing:1.653px;" fill="#000">10.10.</text>
<text transform="translate(239.60 1411.30) scale(0.9000 1)" style="font-size:30.00px;letter-spacing:1.209px;" fill="#000">Železný hasič Junior TFA</text>
<text transform="translate(864.35 1409.00) scale(0.9000 1)" style="font-size:23.30px;letter-spacing:1.909px;" fill="#000">SDH Mnichovice</text>
<text transform="translate(1102.60 1411.30) scale(0.9000 1)" style="font-size:30.00px;letter-spacing:2.198px;" fill="#000">Mnichovice</text>
<text transform="translate(102.85 1476.60) scale(0.8800 1)" style="font-size:30.00px;font-weight:bold;letter-spacing:2.479px;" fill="#0070c0">18.10.</text>
<text transform="translate(239.60 1476.60) scale(0.8800 1)" style="font-size:30.00px;font-weight:bold;letter-spacing:1.205px;" fill="#0070c0">Krajské ZHVB</text>
<text transform="translate(92.35 1542.00) scale(0.8800 1)" style="font-size:30.00px;font-weight:bold;letter-spacing:2.801px;" fill="#ee0000">6.-8.11.</text>
<text transform="translate(239.60 1542.00) scale(0.8800 1)" style="font-size:30.00px;font-weight:bold;letter-spacing:1.809px;" fill="#ee0000">Školení vedoucích mládeže a rozhodčí</text>
<text transform="translate(897.85 1539.70) scale(0.8800 1)" style="font-size:23.30px;letter-spacing:1.080px;" fill="#ee0000">ORM, ORS</text>
<text transform="translate(1084.95 1542.00) scale(0.9000 1)" style="font-size:30.00px;letter-spacing:1.279px;" fill="#ee0000">Přední Labská</text>
<text transform="translate(102.65 1607.25) scale(0.8800 1)" style="font-size:30.00px;font-weight:bold;letter-spacing:2.900px;" fill="#ee0000">21.11.</text>
<text transform="translate(239.60 1607.25) scale(0.8800 1)" style="font-size:30.00px;font-weight:bold;letter-spacing:1.683px;" fill="#ee0000">Zkoušky odborností Hasič III. a II.</text>
<text transform="translate(921.50 1604.95) scale(0.8800 1)" style="font-size:23.30px;letter-spacing:0.564px;" fill="#ee0000">OORR</text>
<text transform="translate(1102.60 1607.25) scale(0.9000 1)" style="font-size:30.00px;letter-spacing:2.198px;" fill="#ee0000">Mnichovice</text>
<text transform="translate(91.15 1672.70) scale(0.9000 1)" style="font-size:30.00px;letter-spacing:2.331px;" fill="#000">listopad</text>
<text transform="translate(239.60 1672.70) scale(0.9000 1)" style="font-size:30.00px;letter-spacing:1.984px;" fill="#000">Shromáždění představitelů sborů</text>
<text transform="translate(939.35 1670.40) scale(0.8000 1)" style="font-size:23.30px;letter-spacing:3.019px;" fill="#000">VV</text>
<text transform="translate(65.17 1739.60) scale(0.8800 1)" style="font-size:19.80px;font-style:italic;letter-spacing:1.786px;" fill="#000">Aktualizace: 4.12.2025</text>
<text transform="translate(524.57 1858.50) scale(0.9700 1)" style="font-size:35.00px;letter-spacing:6.686px;" fill="#ee0000">www.osh-pv.cz</text>
</svg>
</body></html>
